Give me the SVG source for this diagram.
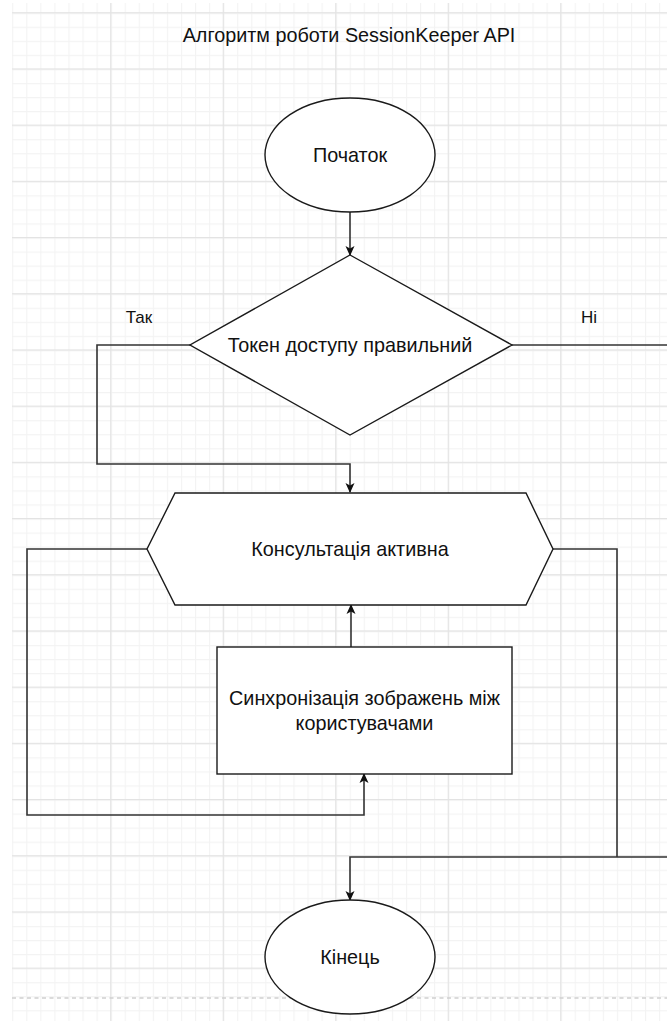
<svg xmlns="http://www.w3.org/2000/svg" width="667" height="1021" viewBox="0 0 667 1021">
  <style>
    .shape { fill: #ffffff; stroke: #1a1a1a; stroke-width: 1.4; }
    .edge { fill: none; stroke: #333333; stroke-width: 1.6; }
    .label { font-family: "Liberation Sans", Arial, sans-serif; font-size: 19.8px; fill: #111111; text-anchor: middle; dominant-baseline: central; }
    .small { font-size: 17px; }
  </style>
  <defs>
    <pattern id="gridMinor" patternUnits="userSpaceOnUse" x="12.2" y="12.7" width="14.0625" height="14.05">
      <path d="M0.5 0 V14.05 M0 0.5 H14.0625" fill="none" stroke="#f3f3f3" stroke-width="1.2"/>
    </pattern>
    <pattern id="gridMajorV" patternUnits="userSpaceOnUse" x="110.2" y="0" width="112.5" height="20">
      <path d="M0.6 0 V20" fill="none" stroke="#e3e3e3" stroke-width="1.2"/>
    </pattern>
    <pattern id="gridMajorH" patternUnits="userSpaceOnUse" x="0" y="12.2" width="20" height="56.2">
      <path d="M0 0.6 H20" fill="none" stroke="#e3e3e3" stroke-width="1.2"/>
    </pattern>
    <marker id="arrow" viewBox="0 0 10 10" refX="9" refY="5" markerWidth="10" markerHeight="10" markerUnits="userSpaceOnUse" orient="auto">
      <path d="M0 0.5 L10 5 L0 9.5 L2.5 5 Z" fill="#111111" stroke="none"/>
    </marker>
  </defs>

  <!-- background and grid -->
  <rect x="0" y="0" width="667" height="1021" fill="#ffffff"/>
  <g id="grid">
    <rect x="12" y="3" width="655" height="1018" fill="url(#gridMinor)"/>
    <rect x="12" y="3" width="655" height="1018" fill="url(#gridMajorV)"/>
    <rect x="12" y="3" width="655" height="1018" fill="url(#gridMajorH)"/>
    <line x1="12" y1="998" x2="667" y2="998" stroke="#cfcfcf" stroke-width="1.4" stroke-dasharray="4 3.5"/>
  </g>

  <!-- title -->
  <text id="title" class="label" x="349" y="35">Алгоритм роботи SessionKeeper API</text>

  <!-- connectors -->
  <g id="connectors">
    <path class="edge" d="M350 212 V255" marker-end="url(#arrow)"/>
    <path class="edge" d="M190 345 H97 V464 H350 V492" marker-end="url(#arrow)"/>
    <path class="edge" d="M512 345 H667"/>
    <path class="edge" d="M667 857 H350 V900" marker-end="url(#arrow)"/>
    <path class="edge" d="M553 549 H617 V857"/>
    <path class="edge" d="M147 549 H27 V815 H364 V774" marker-end="url(#arrow)"/>
    <path class="edge" d="M351 647 V605" marker-end="url(#arrow)"/>
    <text class="label small" x="139" y="317">Так</text>
    <text class="label small" x="589" y="317">Ні</text>
  </g>

  <!-- nodes -->
  <g id="start">
    <ellipse class="shape" cx="350" cy="155" rx="85" ry="57"/>
    <text class="label" x="350" y="155">Початок</text>
  </g>
  <g id="tokenCheck">
    <polygon class="shape" points="350,255 512,345 350,435 190,345"/>
    <text class="label" x="350" y="345">Токен доступу правильний</text>
  </g>
  <g id="consultation">
    <polygon class="shape" points="175,493 526,493 553,549 526,605 175,605 147,549"/>
    <text class="label" x="350" y="549">Консультація активна</text>
  </g>
  <g id="sync">
    <rect class="shape" x="217" y="647" width="295" height="127"/>
    <text class="label" x="364.5" y="698">Синхронізація зображень між</text>
    <text class="label" x="364.5" y="723">користувачами</text>
  </g>
  <g id="end">
    <ellipse class="shape" cx="350" cy="957" rx="85" ry="57"/>
    <text class="label" x="350" y="957">Кінець</text>
  </g>
</svg>
